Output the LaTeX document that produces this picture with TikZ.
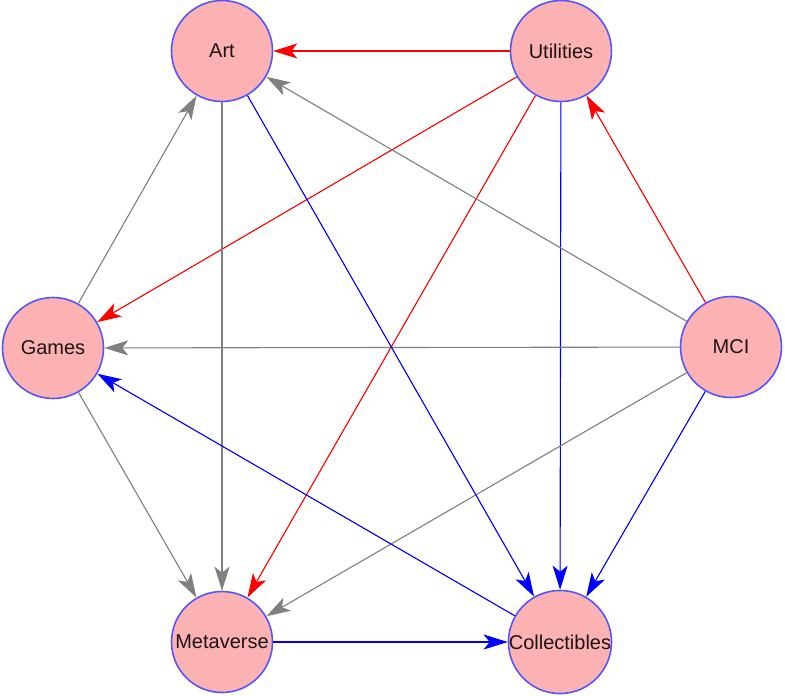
\documentclass[tikz,border=0pt]{standalone}
\usepackage{fontspec}
\setmainfont{Liberation Sans}
\usetikzlibrary{arrows.meta}
\definecolor{nodefill}{RGB}{252,178,178}
\definecolor{nodeline}{RGB}{85,85,255}
\definecolor{txt}{RGB}{30,20,20}
\definecolor{eg}{RGB}{128,128,128}
\begin{document}
\begin{tikzpicture}[x=1pt,y=-1pt,
  vnode/.style={circle, draw=nodeline, line width=1.6pt, fill=nodefill,
    minimum size=101pt, inner sep=0pt, text=txt,
    font=\fontsize{20}{24}\selectfont},
  edge/.style={line width=1.1pt, -{Stealth[length=24pt, width=15pt, inset=6pt]}},
  redge/.style={edge, draw=red, fill=red},
  bedge/.style={edge, draw=blue, fill=blue},
  gedge/.style={edge, draw=eg, fill=eg}]
\useasboundingbox (0,0) rectangle (785,696);
\node[vnode] (art) at (222,51) {Art};
\node[vnode] (util) at (561,51) {Utilities};
\node[vnode] (games) at (53,348) {Games};
\node[vnode] (mci) at (731,347) {MCI};
\node[vnode] (meta) at (222,642) {Metaverse};
\node[vnode] (coll) at (560,642) {Collectibles};
\draw[redge] (util) -- (art);
\draw[redge] (util) -- (games);
\draw[redge] (util) -- (meta);
\draw[bedge] (util) -- (coll);
\draw[redge] (mci) -- (util);
\draw[gedge] (mci) -- (art);
\draw[gedge] (mci) -- (games);
\draw[gedge] (mci) -- (meta);
\draw[bedge] (mci) -- (coll);
\draw[gedge] (art) -- (meta);
\draw[bedge] (art) -- (coll);
\draw[gedge] (games) -- (art);
\draw[gedge] (games) -- (meta);
\draw[bedge] (coll) -- (games);
\draw[bedge] (meta) -- (coll);
\end{tikzpicture}
\end{document}
